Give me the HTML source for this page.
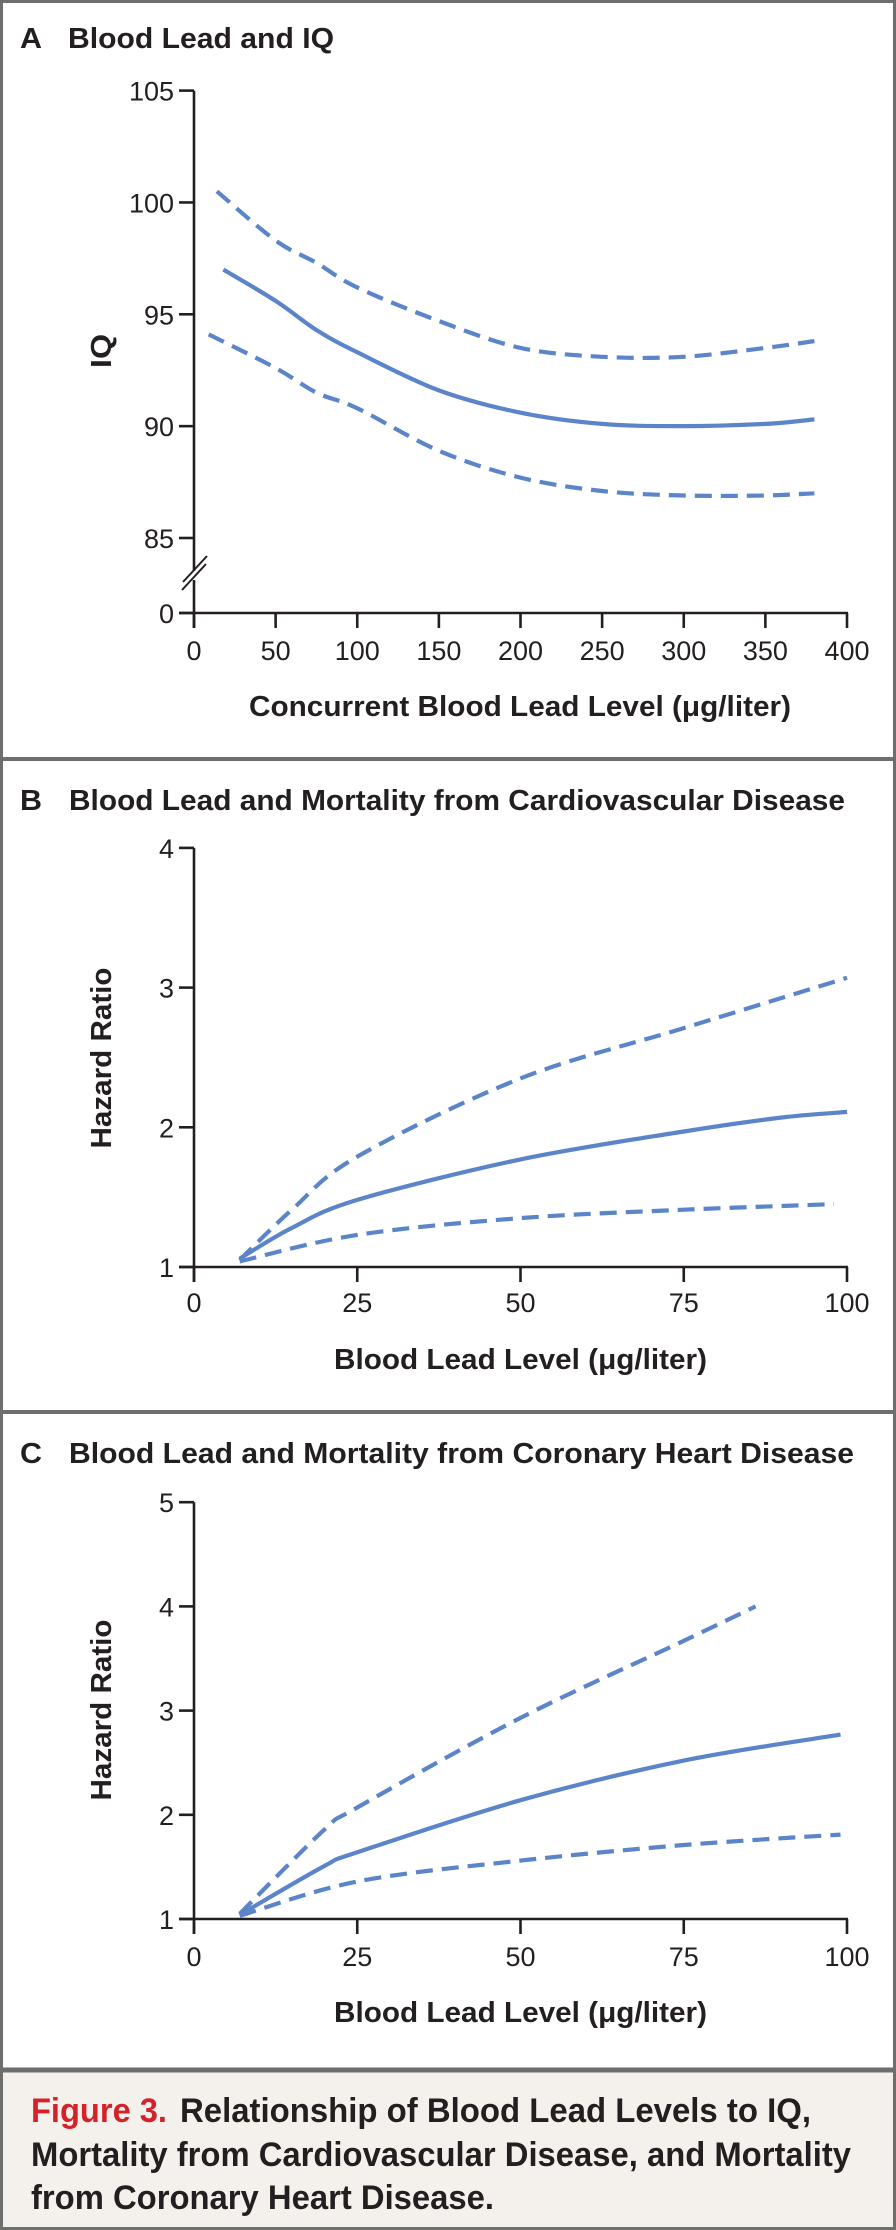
<!DOCTYPE html>
<html><head><meta charset="utf-8">
<style>
html,body{margin:0;padding:0;background:#fff}
svg{display:block}
text{font-family:"Liberation Sans",sans-serif;fill:#231f20}
.t{font-weight:bold;font-size:29px}
.tk{font-size:27px}
.ax{font-weight:bold;font-size:29px}
.cap{font-weight:bold;font-size:34px}
</style></head>
<body>
<svg id="fig" width="896" height="2230" viewBox="0 0 896 2230" xmlns="http://www.w3.org/2000/svg">
<rect x="0" y="0" width="896" height="2230" fill="#fff"/>
<rect x="0" y="2071" width="896" height="159" fill="#f4f1ec"/>
<rect x="1.5" y="1.5" width="893" height="2227" fill="none" stroke="#6e6e6e" stroke-width="3"/>
<line x1="0" y1="759" x2="896" y2="759" stroke="#6e6e6e" stroke-width="4"/>
<line x1="0" y1="1412" x2="896" y2="1412" stroke="#6e6e6e" stroke-width="4"/>
<line x1="0" y1="2070" x2="896" y2="2070" stroke="#6e6e6e" stroke-width="5"/>

<text class="t" x="20" y="48" textLength="22" lengthAdjust="spacingAndGlyphs">A</text>
<text class="t" x="68" y="48" textLength="266" lengthAdjust="spacingAndGlyphs">Blood Lead and IQ</text>
<text class="t" x="20" y="810" textLength="22" lengthAdjust="spacingAndGlyphs">B</text>
<text class="t" x="69" y="810" textLength="776" lengthAdjust="spacingAndGlyphs">Blood Lead and Mortality from Cardiovascular Disease</text>
<text class="t" x="20" y="1463" textLength="22" lengthAdjust="spacingAndGlyphs">C</text>
<text class="t" x="69" y="1463" textLength="785" lengthAdjust="spacingAndGlyphs">Blood Lead and Mortality from Coronary Heart Disease</text>

<text class="ax" x="249" y="716" textLength="542" lengthAdjust="spacingAndGlyphs">Concurrent Blood Lead Level (μg/liter)</text>
<text class="ax" x="0" y="0" text-anchor="middle" textLength="34" lengthAdjust="spacingAndGlyphs" transform="translate(111,351) rotate(-90)">IQ</text>
<text class="ax" x="334" y="1369" textLength="373" lengthAdjust="spacingAndGlyphs">Blood Lead Level (μg/liter)</text>
<text class="ax" x="0" y="0" text-anchor="middle" textLength="181" lengthAdjust="spacingAndGlyphs" transform="translate(111,1058) rotate(-90)">Hazard Ratio</text>
<text class="ax" x="334" y="2022" textLength="373" lengthAdjust="spacingAndGlyphs">Blood Lead Level (μg/liter)</text>
<text class="ax" x="0" y="0" text-anchor="middle" textLength="181" lengthAdjust="spacingAndGlyphs" transform="translate(111,1710) rotate(-90)">Hazard Ratio</text>

<text class="cap" x="31" y="2122"><tspan fill="#d3222a" textLength="136" lengthAdjust="spacingAndGlyphs">Figure 3.</tspan><tspan x="180" textLength="631" lengthAdjust="spacingAndGlyphs">Relationship of Blood Lead Levels to IQ,</tspan></text>
<text class="cap" x="31" y="2166" textLength="820" lengthAdjust="spacingAndGlyphs">Mortality from Cardiovascular Disease, and Mortality</text>
<text class="cap" x="31" y="2209" textLength="463" lengthAdjust="spacingAndGlyphs">from Coronary Heart Disease.</text>
<g id="plots"></g>
</svg>
<script>
// Panel A data
const aXTicks = [0,50,100,150,200,250,300,350,400];
const aYTicks = [85,90,95,100,105];
const aX = [18,50,75,100,150,200,250,300,350,380];
const aEst = [97.0,95.6,94.3,93.3,91.6,90.6,90.1,90.0,90.1,90.3];
const aUpX = [14,50,75,100,150,200,250,300,350,380];
const aUp = [100.5,98.3,97.3,96.2,94.7,93.5,93.1,93.1,93.5,93.8];
const aLoX = [9,50,75,100,150,200,250,300,350,380];
const aLo = [94.1,92.6,91.5,90.8,88.9,87.7,87.1,86.9,86.9,87.0];
// Panel B data
const bXTicks = [0,25,50,75,100];
const bYTicks = [1,2,3,4];
const bX = [7,15,25,50,75,90,100];
const bEst = [1.06,1.28,1.48,1.77,1.97,2.07,2.11];
const bUpX = [7,15,25,50,75,100];
const bUp = [1.05,1.41,1.79,2.35,2.71,3.07];
const bLoX = [7,25,50,75,98];
const bLo = [1.04,1.23,1.35,1.41,1.45];
// Panel C data
const cXTicks = [0,25,50,75,100];
const cYTicks = [1,2,3,4,5];
const cX = [7,20,25,50,75,99];
const cEst = [1.04,1.51,1.64,2.14,2.52,2.77];
const cUpX = [7,20,25,50,75,86];
const cUp = [1.05,1.86,2.07,2.93,3.67,4.0];
const cLoX = [7,25,50,75,99];
const cLo = [1.03,1.36,1.56,1.71,1.81];

const NS='http://www.w3.org/2000/svg';
const root=document.getElementById('plots');
const BLUE='#5b85c8', INK='#231f20';
function mk(tag,attrs,parent){const e=document.createElementNS(NS,tag);for(const k in attrs)e.setAttribute(k,attrs[k]);(parent||root).appendChild(e);return e;}
function pathD(xs,ys,sx,sy){
  const p=xs.map((x,i)=>[sx(x),sy(ys[i])]);
  let d='M'+p[0][0].toFixed(1)+','+p[0][1].toFixed(1);
  for(let i=0;i<p.length-1;i++){
    const p0=p[i-1]||p[i],p1=p[i],p2=p[i+1],p3=p[i+2]||p2;
    const c1x=p1[0]+(p2[0]-p0[0])/6,c1y=p1[1]+(p2[1]-p0[1])/6;
    const c2x=p2[0]-(p3[0]-p1[0])/6,c2y=p2[1]-(p3[1]-p1[1])/6;
    d+=' C'+c1x.toFixed(1)+','+c1y.toFixed(1)+' '+c2x.toFixed(1)+','+c2y.toFixed(1)+' '+p2[0].toFixed(1)+','+p2[1].toFixed(1);
  }
  return d;
}
function panel(id,cfg){
  const g=mk('g',{});
  
  
  const {sx,sy,xTicks,yTicks,y0,yTop,tickLblY}=cfg;
  if(cfg.brk){
    const a1=mk('line',{x1:194,y1:yTop,x2:194,y2:571,stroke:INK,'stroke-width':2.6},g);
    
    const a2=mk('line',{x1:194,y1:580,x2:194,y2:y0+15,stroke:INK,'stroke-width':2.6},g);
    
    const s1=mk('line',{x1:182,y1:590,x2:206,y2:564,stroke:INK,'stroke-width':2},g);
    
    const s2=mk('line',{x1:183,y1:582,x2:207,y2:556,stroke:INK,'stroke-width':2},g);
    
    const zt=mk('line',{x1:179,y1:y0,x2:194,y2:y0,stroke:INK,'stroke-width':2.6},g);
    
    const zl=mk('text',{x:174,y:y0+10,'text-anchor':'end',class:'tk'},g);zl.textContent='0';
    
  } else {
    const a=mk('line',{x1:194,y1:yTop,x2:194,y2:y0+15,stroke:INK,'stroke-width':2.6},g);
    
  }
  const xa=mk('line',{x1:179,y1:y0,x2:848,y2:y0,stroke:INK,'stroke-width':2.6},g);
  
  yTicks.forEach(v=>{
    const t=mk('line',{x1:179,y1:sy(v),x2:194,y2:sy(v),stroke:INK,'stroke-width':2.6},g);
    
    const l=mk('text',{x:174,y:sy(v)+10,'text-anchor':'end',class:'tk'},g);
    l.textContent=String(v);
    
  });
  xTicks.forEach(v=>{
    const t=mk('line',{x1:sx(v),y1:y0,x2:sx(v),y2:y0+15,stroke:INK,'stroke-width':2.6},g);
    
    const l=mk('text',{x:sx(v),y:tickLblY,'text-anchor':'middle',class:'tk'},g);
    l.textContent=String(v);
    
  });
  cfg.series.forEach(s=>{
    const p=mk('path',{d:pathD(s.x,s.y,sx,sy),fill:'none',stroke:BLUE,'stroke-width':4.2,'stroke-linecap':'butt','stroke-linejoin':'round'},g);
    if(s.dash)p.setAttribute('stroke-dasharray','17,9');
    
    
  });
}
const axA=v=>194+v*(653/400);
const ayA=v=>538-(v-85)*(447.4/20);
panel('panel-a',{sx:axA,sy:ayA,xTicks:aXTicks,yTicks:aYTicks,y0:613,yTop:ayA(105),tickLblY:660,brk:true,
  series:[{name:'iq-estimate-line',x:aX,y:aEst},{name:'upper-ci-line',x:aUpX,y:aUp,dash:true},{name:'lower-ci-line',x:aLoX,y:aLo,dash:true}]});
const axB=v=>194+v*6.53;
const ayB=v=>1267-(v-1)*139.7;
panel('panel-b',{sx:axB,sy:ayB,xTicks:bXTicks,yTicks:bYTicks,y0:1267,yTop:ayB(4),tickLblY:1312,
  series:[{name:'hazard-estimate-line',x:bX,y:bEst},{name:'upper-ci-line',x:bUpX,y:bUp,dash:true},{name:'lower-ci-line',x:bLoX,y:bLo,dash:true}]});
const axC=v=>194+v*6.53;
const ayC=v=>1919-(v-1)*104.2;
panel('panel-c',{sx:axC,sy:ayC,xTicks:cXTicks,yTicks:cYTicks,y0:1919,yTop:ayC(5),tickLblY:1966,
  series:[{name:'hazard-estimate-line',x:cX,y:cEst},{name:'upper-ci-line',x:cUpX,y:cUp,dash:true},{name:'lower-ci-line',x:cLoX,y:cLo,dash:true}]});
</script>
</body></html>
